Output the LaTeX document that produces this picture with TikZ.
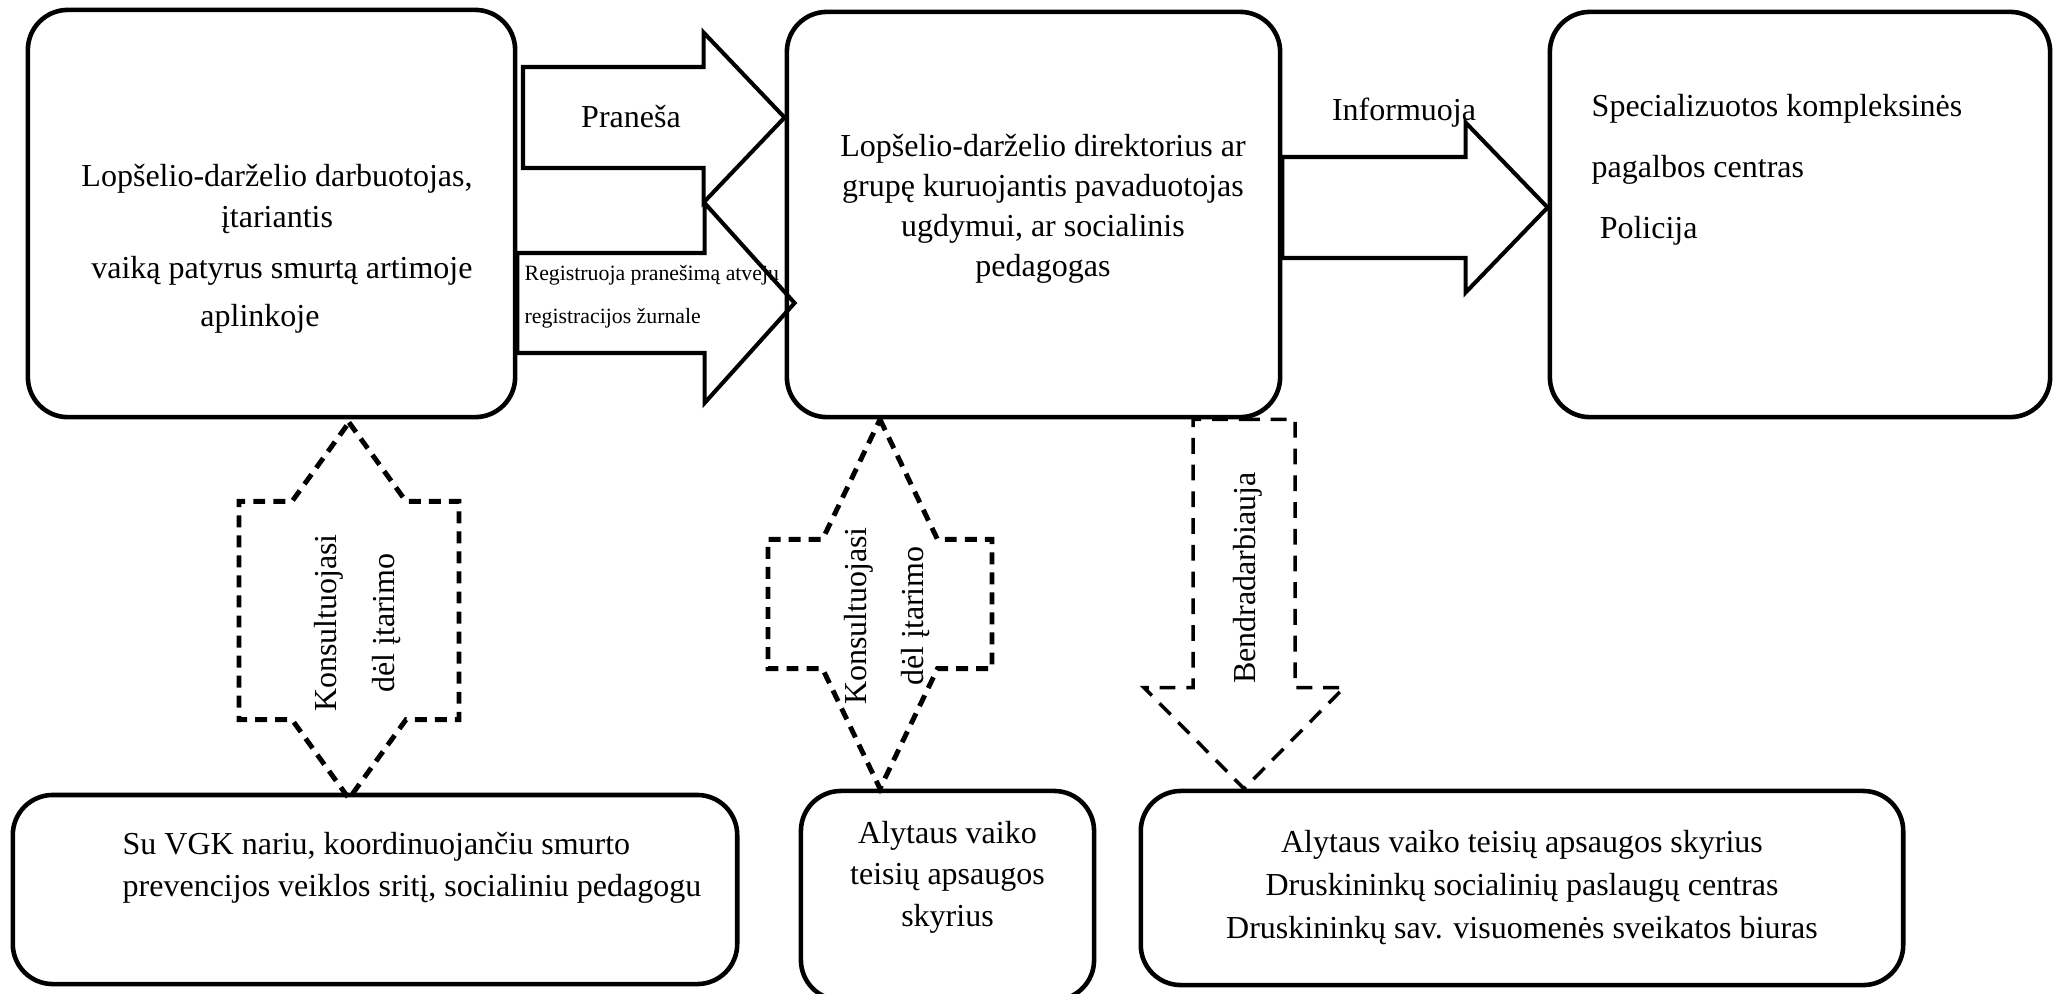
\documentclass[tikz,border=0pt]{standalone}
\usepackage{fontspec}
\setmainfont{Liberation Serif}
\usetikzlibrary{calc}

\tikzset{
  % block arrow pointing right: shaft half width, head half width, head length
  blockright/.style n args={3}{to path={-- ($(\tikztostart)+(0,-#1)$) -- ($(\tikztotarget)+(-#3,-#1)$)
      -- ($(\tikztotarget)+(-#3,-#2)$) -- (\tikztotarget) -- ($(\tikztotarget)+(-#3,#2)$)
      -- ($(\tikztotarget)+(-#3,#1)$) -- ($(\tikztostart)+(0,#1)$) -- cycle}},
  % block arrow pointing down
  blockdown/.style n args={3}{to path={-- ($(\tikztostart)+(#1,0)$) -- ($(\tikztotarget)+(#1,-#3)$)
      -- ($(\tikztotarget)+(#2,-#3)$) -- (\tikztotarget) -- ($(\tikztotarget)+(-#2,-#3)$)
      -- ($(\tikztotarget)+(-#1,-#3)$) -- ($(\tikztostart)+(-#1,0)$) -- cycle}},
  % block arrow with a head at both ends (vertical)
  blockboth/.style n args={3}{to path={-- ($(\tikztostart)+(#2,#3)$) -- ($(\tikztostart)+(#1,#3)$)
      -- ($(\tikztotarget)+(#1,-#3)$) -- ($(\tikztotarget)+(#2,-#3)$) -- (\tikztotarget)
      -- ($(\tikztotarget)+(-#2,-#3)$) -- ($(\tikztotarget)+(-#1,-#3)$)
      -- ($(\tikztostart)+(-#1,#3)$) -- ($(\tikztostart)+(-#2,#3)$) -- cycle}}
}

\begin{document}
\begin{tikzpicture}[x=0.01cm,y=-0.01cm,
    box/.style={draw,line width=1.3pt,rounded corners=0.4cm,inner sep=0pt},
    txt/.style={inner sep=0pt,font=\fontsize{9.1}{11.4}\selectfont},
    fat/.style={line width=1.15pt},
    dots/.style={line width=1.4pt,dash pattern=on 3.4pt off 2.3pt},
    dashes/.style={line width=1pt,dash pattern=on 4.5pt off 3.1pt}]
  \useasboundingbox (0,0) rectangle (2054,993);

  % boxes
  \node[box,minimum width=4.87cm,minimum height=4.07cm] (worker) at (271.5,213.5) {};
  \node[box,minimum width=4.93cm,minimum height=4.05cm] (director) at (1033.5,214.5) {};
  \node[box,minimum width=5cm,minimum height=4.05cm] (centres) at (1800,214.5) {};
  \node[box,minimum width=7.24cm,minimum height=1.89cm] (vgk) at (375,889.5) {};
  \node[box,minimum width=2.93cm,minimum height=2.09cm] (vtas) at (947.5,895.5) {};
  \node[box,minimum width=7.62cm,minimum height=1.94cm] (partners) at (1522,888) {};

  % texts in the boxes
  \node[txt,align=center] (workertxt) at (277,249) {Lopšelio-darželio darbuotojas,\\
    įtariantis\\[3.1pt]
    \hspace*{2.8pt}vaiką patyrus smurtą artimoje\\[2.4pt]
    aplinkoje\hspace*{9.7pt}};
  \node[txt,align=center] (directortxt) at (1043,208.5) {Lopšelio-darželio direktorius ar\\
    grupę kuruojantis pavaduotojas\\ugdymui, ar socialinis\\pedagogas};
  \node[txt,align=left,anchor=west,font=\fontsize{9.1}{17.35}\selectfont] (centrestxt) at (1591,170)
    {Specializuotos kompleksinės\\pagalbos centras\\\hspace*{2.3pt}Policija};
  \node[txt,align=left,anchor=west,font=\fontsize{9.1}{12}\selectfont] (vgktxt) at (122,868)
    {Su VGK nariu, koordinuojančiu smurto\\prevencijos veiklos sritį, socialiniu pedagogu};
  \node[txt,align=center,font=\fontsize{9.1}{11.8}\selectfont] (vtastxt) at (947.5,877)
    {Alytaus vaiko\\teisių apsaugos\\skyrius};
  \node[txt,align=center,font=\fontsize{9.1}{12.2}\selectfont] (partnerstxt) at (1522,887.5)
    {Alytaus vaiko teisių apsaugos skyrius\\Druskininkų socialinių paslaugų centras\\
    Druskininkų sav. visuomenės sveikatos biuras};

  % block arrows
  \coordinate (rowA) at (523,117.5);
  \coordinate (rowB) at (0,303);
  \coordinate (rowC) at (0,207.5);
  \coordinate (colA) at (349,0);
  \coordinate (colB) at (880,0);
  \coordinate (colC) at (1244,0);
  \draw[fat] (rowA) to[blockright={50.5}{85}{81}] (director.west |- rowA);
  \draw[fat] (worker.east |- rowB) to[blockright={50}{100}{90}] ($(director.west |- rowB)+(10,0)$);
  \draw[fat] (director.east |- rowC) to[blockright={50.5}{85}{82}] (centres.west |- rowC);
  \draw[dots] ($(worker.south -| colA)+(0,3)$) to[blockboth={110}{57}{79}] ($(vgk.north -| colA)+(0,6)$);
  \draw[dots] (director.south -| colB) to[blockboth={112}{57.5}{120}] (vtas.north -| colB);
  \draw[dashes] (director.south -| colC) to[blockdown={51}{100}{101}] (partners.north -| colC);

  % arrow labels
  \node[txt] (prane) at (631,117) {Praneša};
  \node[txt,align=left,anchor=west,font=\fontsize{6.2}{12.2}\selectfont] (regis) at (524,296.5)
    {Registruoja pranešimą atvejų\\registracijos žurnale};
  \node[txt] (inform) at (1404,113) {Informuoja};
  \node[txt,rotate=90,align=center,font=\fontsize{9.1}{16.5}\selectfont] (consA) at (358,623)
    {Konsultuojasi\\dėl įtarimo};
  \node[txt,rotate=90,align=center,font=\fontsize{9.1}{16}\selectfont] (consB) at (887,616)
    {Konsultuojasi\\dėl įtarimo};
  \node[txt,rotate=90] (coop) at (1248,578) {Bendradarbiauja};
\end{tikzpicture}
\end{document}
